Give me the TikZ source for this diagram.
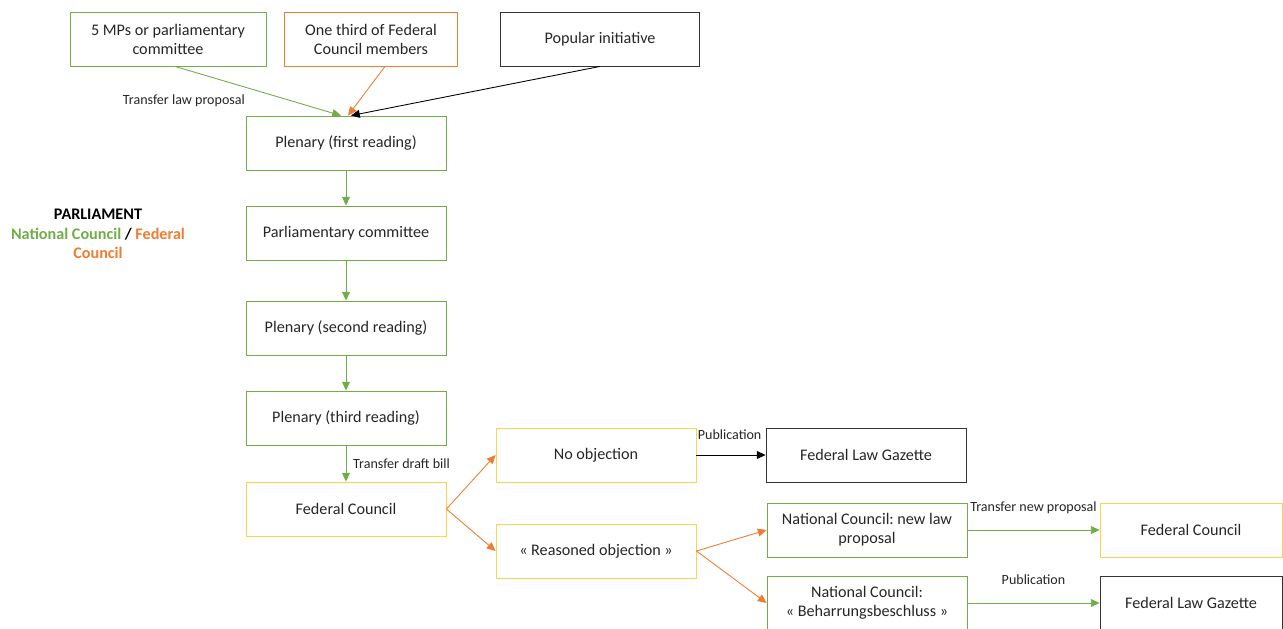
\documentclass[tikz,border=0pt]{standalone}
\usepackage{fontspec}
\setmainfont{Carlito}
\usetikzlibrary{arrows.meta}
\definecolor{ncgreen}{HTML}{70AD47}
\definecolor{fcorange}{HTML}{ED7D31}
\definecolor{fcyellow}{HTML}{FFD24D}
\frenchspacing

\begin{document}
\begin{tikzpicture}[x=0.02cm,y=-0.02cm,
    box/.style={draw, line width=0.5pt, minimum width=4cm, minimum height=1.08cm,
      align=center, inner sep=2pt, text=black!85, font=\fontsize{9.2}{10.8}\selectfont},
    greenbox/.style={box, draw=ncgreen},
    orangebox/.style={box, draw=fcorange},
    yellowbox/.style={box, draw=fcyellow},
    blackbox/.style={box, draw=black!80},
    arr/.style={-{Triangle[length=5pt,width=4.5pt]}, line width=0.5pt},
    lbl/.style={text=black!85, inner sep=1pt, font=\fontsize{8}{9.5}\selectfont}]
    \useasboundingbox (0,0) rectangle (1283,628);

    % where proposals come from
    \node[greenbox, minimum width=3.92cm] (mps) at (168,39) {5 MPs or parliamentary\\committee};
    \node[orangebox, minimum width=3.46cm] (third) at (371,39) {One third of Federal\\Council members};
    \node[blackbox, minimum width=3.98cm] (popular) at (600,39) {Popular initiative};

    % parliament
    \node[greenbox] (first) at (346,143) {Plenary (first reading)};
    \node[greenbox] (committee) at (346,233) {Parliamentary committee};
    \node[greenbox] (second) at (346,328) {Plenary (second reading)};
    \node[greenbox] (third-r) at (346,418) {Plenary (third reading)};
    \node[yellowbox] (fedc) at (346,509) {Federal Council};

    \node[font=\fontsize{9.2}{11}\selectfont\bfseries, align=center] (parl) at (98,234)
	{PARLIAMENT\\\textcolor{ncgreen}{National Council} / \textcolor{fcorange}{Federal}\\\textcolor{fcorange}{Council}};

    % federal council decision
    \node[yellowbox] (noobj) at (596,455) {No objection};
    \node[yellowbox] (reasoned) at (596,551) {« Reasoned objection »};
    \node[blackbox] (gazette) at (866,455) {Federal Law Gazette};
    \node[greenbox] (newprop) at (867,530) {National Council: new law\\proposal};
    \node[greenbox] (insist) at (867,603) {National Council:\\« Beharrungsbeschluss »};
    \node[yellowbox, minimum width=3.64cm] (fedc2) at (1191,530) {Federal Council};
    \node[blackbox, minimum width=3.64cm] (gazette2) at (1191,603) {Federal Law Gazette};

    \draw[arr, ncgreen] ([xshift=0.14cm]mps.south) -- ([xshift=-0.1cm]first.north)
	node[lbl, pos=0.66, left, xshift=-0.75cm, yshift=-0.04cm] {Transfer law proposal};
    \draw[arr, fcorange] ([xshift=0.28cm]third.south) -- ([xshift=0.04cm]first.north);
    \draw[arr, black] (popular.south) -- ([xshift=0.1cm]first.north);
    \draw[arr, ncgreen] (first) -- (committee);
    \draw[arr, ncgreen] (committee) -- (second);
    \draw[arr, ncgreen] (second) -- (third-r);
    \draw[arr, ncgreen] (third-r) -- (fedc) node[lbl, midway, right, xshift=0.1cm] {Transfer draft bill};
    \draw[arr, fcorange] (fedc.east) -- (noobj.west);
    \draw[arr, fcorange] (fedc.east) -- (reasoned.west);
    \draw[arr, black] (noobj) -- (gazette) node[lbl, pos=0.48, above, yshift=0.26cm] {Publication};
    \draw[arr, fcorange] (reasoned.east) -- (newprop.west);
    \draw[arr, fcorange] (reasoned.east) -- (insist.west);
    \draw[arr, ncgreen] (newprop) -- (fedc2) node[lbl, midway, above, yshift=0.28cm] {Transfer new proposal};
    \draw[arr, ncgreen] (insist) -- (gazette2) node[lbl, midway, above, yshift=0.33cm] {Publication};
\end{tikzpicture}
\end{document}
